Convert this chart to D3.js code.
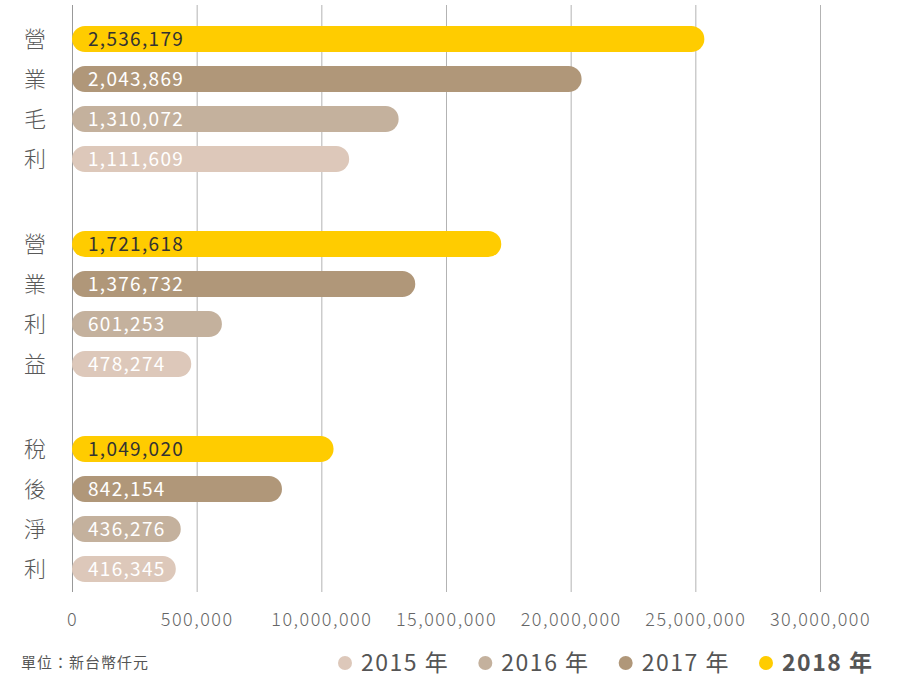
<!DOCTYPE html>
<html>
<head>
<meta charset="utf-8">
<script src="https://cdn.jsdelivr.net/npm/d3@7"></script>
<style>
  body { margin: 0; background: #fff; }
  text { font-family: "Noto Sans CJK TC", "Noto Sans", sans-serif; }
</style>
</head>
<body>
<div class="chart"></div>
<script>
// chart data
var categories = ["營業毛利", "營業利益", "稅後淨利"];
var years = ["2018", "2017", "2016", "2015"];
var values2018 = [2536179, 1721618, 1049020];
var values2017 = [2043869, 1376732, 842154];
var values2016 = [1310072, 601253, 436276];
var values2015 = [1111609, 478274, 416345];
var tickValues = [0, 500000, 1000000, 1500000, 2000000, 2500000, 3000000];
var tickLabels = ["0", "500,000", "10,000,000", "15,000,000", "20,000,000", "25,000,000", "30,000,000"];
var legendYears = ["2015", "2016", "2017", "2018"];
var unitLabel = "單位：新台幣仟元";

var colors = {
  "2018": "#ffcc00",
  "2017": "#b09779",
  "2016": "#c4b19d",
  "2015": "#ddc8ba"
};
var seriesByYear = {
  "2018": values2018,
  "2017": values2017,
  "2016": values2016,
  "2015": values2015
};

// setup chart dimensions
var svgWidth = 903;
var svgHeight = 676;

var margin = { top: 5, left: 72, right: 83, bottom: 84 };
var chartWidth = svgWidth - margin.left - margin.right;
var chartHeight = svgHeight - margin.top - margin.bottom;

var svg = d3.select(".chart")
  .append("svg")
  .attr("width", svgWidth)
  .attr("height", svgHeight);

// scales
var xScale = d3.scaleLinear()
  .domain([0, 3000000])
  .range([margin.left, margin.left + chartWidth]);

var groupScale = d3.scaleBand()
  .domain(categories)
  .range([19, 589])
  .paddingInner(45 / 205);

var barScale = d3.scaleBand()
  .domain(years)
  .range([0, groupScale.bandwidth()])
  .paddingInner(0.35)
  .paddingOuter(0.175);

// gridlines
svg.append("g")
  .selectAll("line")
  .data(tickValues)
  .enter()
  .append("line")
  .attr("x1", d => xScale(d) + 0.5)
  .attr("x2", d => xScale(d) + 0.5)
  .attr("y1", margin.top)
  .attr("y2", margin.top + chartHeight)
  .attr("stroke", (d, i) => i === 0 ? "#999" : "#b3b3b3")
  .attr("stroke-width", 1);

// x axis labels
var bottomAxis = d3.axisBottom(xScale)
  .tickValues(tickValues)
  .tickFormat((d, i) => tickLabels[i])
  .tickSize(0)
  .tickPadding(21);

var xAxis = svg.append("g")
  .attr("transform", `translate(0, ${margin.top + chartHeight})`)
  .call(bottomAxis);

xAxis.select(".domain").remove();
xAxis.selectAll("text")
  .attr("fill", "#666")
  .style("font-size", "18px")
  .style("font-weight", "300")
  .style("letter-spacing", "1.5px")
  .style("font-family", "\"Noto Sans CJK TC\", sans-serif");

// one group per category
var groups = svg.selectAll(".group")
  .data(categories)
  .enter()
  .append("g")
  .attr("class", "group")
  .attr("transform", d => `translate(0, ${groupScale(d)})`);

// bars
groups.each(function(cat, ci) {
  var g = d3.select(this);
  var bh = barScale.bandwidth();

  years.forEach(function(yr) {
    var v = seriesByYear[yr][ci];
    var y = barScale(yr);

    g.append("rect")
      .attr("x", xScale(0))
      .attr("y", y)
      .attr("width", xScale(v) - xScale(0))
      .attr("height", bh)
      .attr("rx", bh / 2)
      .attr("ry", bh / 2)
      .attr("fill", colors[yr]);

    g.append("text")
      .attr("x", xScale(0) + 16)
      .attr("y", y + bh / 2)
      .attr("dy", "0.36em")
      .attr("fill", yr === "2018" ? "#333" : "#fff")
      .style("font-size", "19px")
      .style("letter-spacing", "1.3px")
      .text(d3.format(",")(v));
  });

  // category name, one character per bar row
  var chars = cat.split("");
  g.selectAll(".cat-char")
    .data(chars)
    .enter()
    .append("text")
    .attr("class", "cat-char")
    .attr("x", 35)
    .attr("y", (d, i) => barScale(years[i]) + bh / 2)
    .attr("dy", "0.36em")
    .attr("text-anchor", "middle")
    .attr("fill", "#595959")
    .style("font-size", "22px")
    .style("font-weight", "300")
    .text(d => d);
});

// unit note
svg.append("text")
  .attr("x", 21)
  .attr("y", 663)
  .attr("dy", "0.36em")
  .attr("fill", "#555")
  .style("font-size", "15px")
  .style("letter-spacing", "1px")
  .text(unitLabel);

// legend
var legendScale = d3.scalePoint()
  .domain(legendYears)
  .range([345, 766]);

var legend = svg.selectAll(".legend")
  .data(legendYears)
  .enter()
  .append("g")
  .attr("class", "legend")
  .attr("transform", d => `translate(${legendScale(d)}, 663)`);

legend.append("circle")
  .attr("r", 7)
  .attr("fill", d => colors[d]);

legend.append("text")
  .attr("x", 16)
  .attr("dy", "0.36em")
  .attr("fill", "#555")
  .style("font-size", "23px")
  .style("letter-spacing", "1.5px")
  .style("font-weight", d => d === "2018" ? "bold" : "normal")
  .text(d => d + " 年");
</script>
</body>
</html>
